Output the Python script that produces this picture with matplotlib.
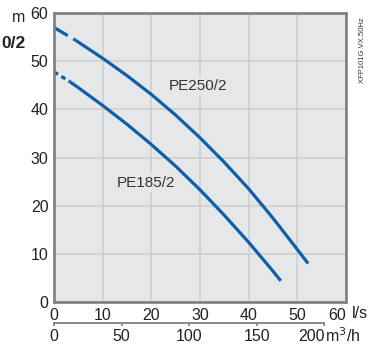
import matplotlib
matplotlib.use("Agg")
import matplotlib.pyplot as plt

plt.rcParams['font.family'] = ['Liberation Sans', 'DejaVu Sans']

# Data (flow in l/s, head in m)
flow_250 = [0, 4.5, 10, 15, 20, 25, 30, 35, 40, 45, 50, 52.2]
head_250 = [57.0, 54.3, 50.6, 47.0, 43.1, 38.8, 34.1, 29.0, 23.5, 17.4, 10.9, 8.0]
flow_185 = [0, 3.3, 5, 10, 15, 20, 25, 30, 35, 40, 45, 46.6]
head_185 = [47.8, 45.7, 44.5, 40.8, 36.9, 32.7, 28.2, 23.3, 18.0, 12.4, 6.4, 4.4]
x_ticks = [0, 10, 20, 30, 40, 50, 60]
y_ticks = [0, 10, 20, 30, 40, 50, 60]
m3h_ticks = [0, 50, 100, 150, 200]

W, H = 371, 345
fig = plt.figure(figsize=(W / 100, H / 100), dpi=100)
ax = fig.add_axes([54 / W, (H - 302) / H, (346 - 54) / W, (302 - 13) / H])
ax.set_facecolor('#e6e7e9')
ax.set_xlim(0, 60)
ax.set_ylim(0, 60)

blue = '#0e5fa8'
lw = 2.3
# PE250/2: dashed start then solid
ax.plot(flow_250[:2], head_250[:2], color=blue, lw=lw, linestyle=(0, (5, 2)), solid_capstyle='butt')
ax.plot(flow_250[1:], head_250[1:], color=blue, lw=lw, solid_capstyle='butt', solid_joinstyle='round')
# PE185/2: dotted start then solid
ax.plot(flow_185[:2], head_185[:2], color=blue, lw=lw, linestyle=(0, (1.5, 1.2)), solid_capstyle='butt')
ax.plot(flow_185[1:], head_185[1:], color=blue, lw=lw, solid_capstyle='butt', solid_joinstyle='round')

ax.set_xticks(x_ticks)
ax.set_yticks(y_ticks)
ax.grid(True, color='#cdcdcf', lw=1.1)
ax.set_axisbelow(True)
ax.tick_params(length=0, labelsize=11.5, colors='#222222', pad=4)
for s in ax.spines.values():
    s.set_color('#7f7f7f')
    s.set_linewidth(1.9)
ax.set_xticklabels([str(v) for v in x_ticks])
ax.get_xticklabels()[-1].set_ha('right')

# secondary m3/h axis
sec = ax.secondary_xaxis('bottom', functions=(lambda q: q * 3.6, lambda m: m / 3.6))
sec.spines['bottom'].set_position(('outward', 15))
sec.spines['bottom'].set_color('#7f7f7f')
sec.spines['bottom'].set_linewidth(1.3)
sec.spines['bottom'].set_bounds(0, 200)
sec.set_xticks(m3h_ticks)
sec.set_xticklabels([str(v) for v in m3h_ticks])
sec.tick_params(length=2.5, width=1.2, color='#7f7f7f', labelsize=11.5, labelcolor='#222222', pad=2, direction='out')
sec.get_xticklabels()[-1].set_ha('right')

# curve labels
ax.text(29.6, 44.8, 'PE250/2', fontsize=11, color='#333333', ha='center', va='center',
        bbox=dict(facecolor='#e6e7e9', edgecolor='none', pad=1.5))
ax.text(18.9, 24.8, 'PE185/2', fontsize=11, color='#333333', ha='center', va='center',
        bbox=dict(facecolor='#e6e7e9', edgecolor='none', pad=1.5))

# unit labels
fig.text(19 / W, 1 - 17 / H, 'm', fontsize=11.5, color='#222222', ha='center', va='center')
fig.text(352 / W, 1 - 313 / H, 'l/s', fontsize=11.5, color='#222222', ha='left', va='center')
fig.text(325 / W, 1 - 336 / H, 'm$^3$/h', fontsize=11.5, color='#222222', ha='left', va='center')
fig.text(1 / W, 1 - 44 / H, '0/2', fontsize=12.5, fontweight='bold', color='#222222', ha='left', va='center')
fig.text(362 / W, 1 - 50 / H, 'XFP101G VX.50Hz', fontsize=5.5, color='#333333', rotation=90, ha='center', va='center')

fig.savefig('out.png', dpi=100)
